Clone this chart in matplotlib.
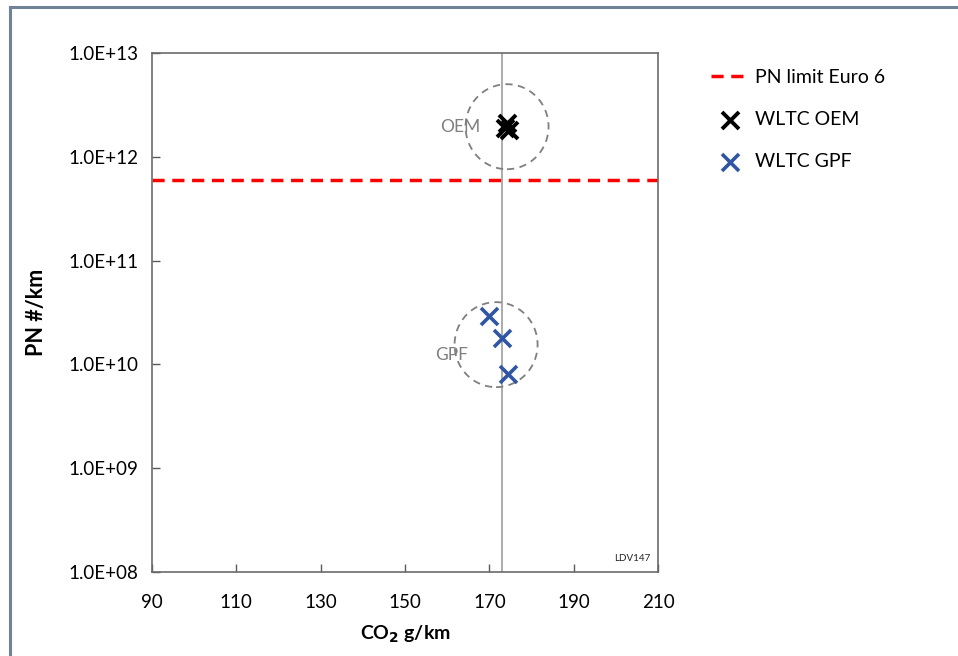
import matplotlib
matplotlib.use("Agg")
import matplotlib.pyplot as plt
from matplotlib.patches import Ellipse
from matplotlib.lines import Line2D
import matplotlib.transforms as mtransforms

plt.rcParams['font.family'] = ['Lato', 'DejaVu Sans']

# Data
pn_limit = 6e11
co2_ref = 173.0
oem_co2 = [173.6, 174.2, 174.6]
oem_pn = [1.9e12, 2.1e12, 1.8e12]
gpf_co2 = [169.9, 173.0, 174.4]
gpf_pn = [2.9e10, 1.8e10, 8.0e9]
circle_labels = ["OEM", "GPF"]
circle_co2 = [174.2, 171.6]
circle_pn = [1.95e12, 1.55e10]
x_ticks = [90, 110, 130, 150, 170, 190, 210]
y_ticks = [1e8, 1e9, 1e10, 1e11, 1e12, 1e13]
y_ticklabels = ["1.0E+08", "1.0E+09", "1.0E+10", "1.0E+11", "1.0E+12", "1.0E+13"]

fig = plt.figure(figsize=(9.58, 6.56), dpi=100)
ax = fig.add_axes([152/958, 1-572/656, (658-152)/958, (572-53)/656])

ax.set_yscale('log')
ax.set_xlim(90, 210)
ax.set_ylim(1e8, 1e13)

ax.axvline(co2_ref, color='#a6a6a6', lw=1.3, zorder=1)
ax.axhline(pn_limit, color='#ff0000', lw=2.5, ls=(0, (3.5, 2.2)), zorder=2,
           label='PN limit Euro 6')
ax.scatter(oem_co2, oem_pn, marker='x', s=150, color='black', linewidths=2.8,
           zorder=4, label='WLTC OEM')
ax.scatter(gpf_co2, gpf_pn, marker='x', s=150, color='#2f55a4', linewidths=2.6,
           zorder=4, label='WLTC GPF')

for lab, cx, cy in zip(circle_labels, circle_co2, circle_pn):
    trans = fig.dpi_scale_trans + mtransforms.ScaledTranslation(cx, cy, ax.transData)
    e = Ellipse((0, 0), 0.83, 0.85, transform=trans, fill=False,
                edgecolor='#7f7f7f', lw=1.3, ls=(0, (4, 3)), zorder=3)
    ax.add_patch(e)
    if lab == "OEM":
        ax.text(-0.27, 0.0, lab, transform=trans, ha='right', va='center',
                fontsize=12.5, color='#7f7f7f', zorder=3.5)
    else:
        ax.text(-0.28, -0.10, lab, transform=trans, ha='right', va='center',
                fontsize=12.5, color='#7f7f7f', zorder=3.5)

ax.set_xticks(x_ticks)
ax.set_xticklabels([str(v) for v in x_ticks])
ax.set_yticks(y_ticks)
ax.set_yticklabels(y_ticklabels)
ax.yaxis.set_minor_locator(matplotlib.ticker.NullLocator())
ax.tick_params(direction='in', length=6, width=1, color='#595959', labelsize=13.5)
ax.tick_params(axis='x', pad=16)
ax.tick_params(axis='y', pad=10)
for s in ax.spines.values():
    s.set_color('#6b6b6b')
    s.set_linewidth(1.2)

ax.set_xlabel('CO$_\\mathbf{2}$ g/km', fontsize=14, fontweight='bold', labelpad=9)
ax.set_ylabel('PN #/km', fontsize=15.5, fontweight='bold', labelpad=15)

ax.text(0.985, 0.018, 'LDV147', transform=ax.transAxes, ha='right', va='bottom',
        fontsize=7, color='#222222')

leg = ax.legend(loc='upper left', bbox_to_anchor=(1.09, 0.985), frameon=False,
                fontsize=14, handlelength=1.9, labelspacing=1.3, handletextpad=0.35,
                borderaxespad=0)

# outer frame
frame_col = '#6f8296'
fig.add_artist(Line2D([9.5/958, 1.0], [1-6.5/656, 1-6.5/656], color=frame_col, lw=2.2,
                      transform=fig.transFigure))
fig.add_artist(Line2D([9.5/958, 9.5/958], [0, 1-6.5/656], color=frame_col, lw=2.2,
                      transform=fig.transFigure))

fig.savefig('out.png', dpi=100)
